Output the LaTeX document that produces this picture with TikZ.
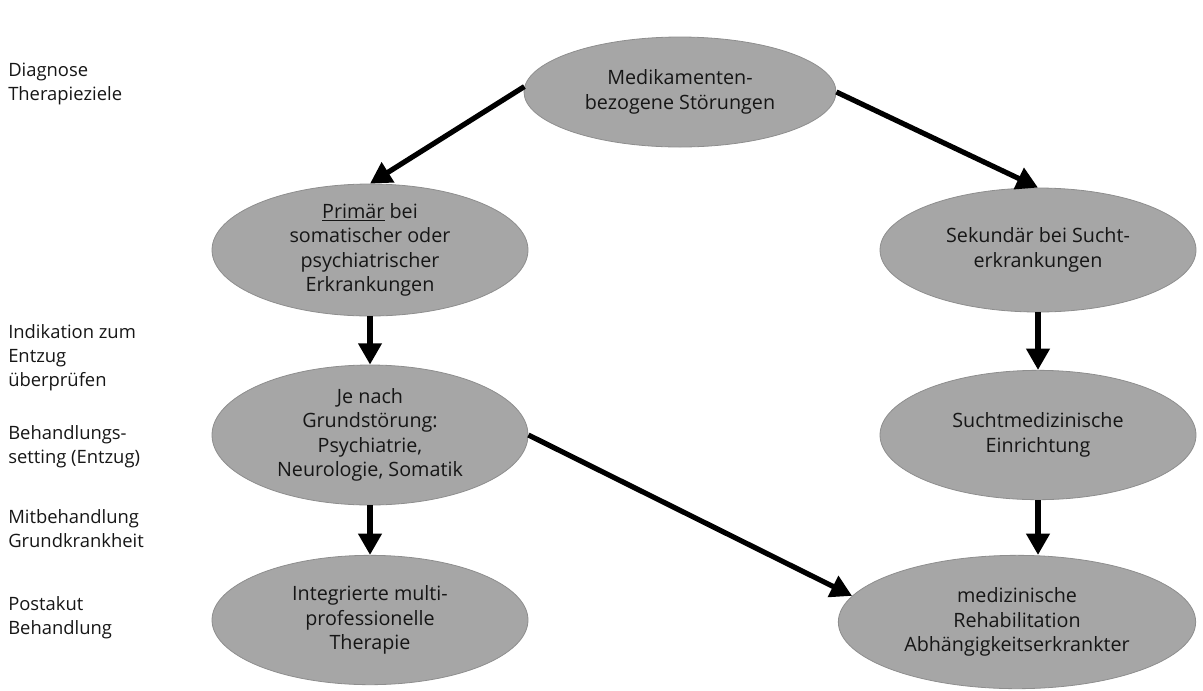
\documentclass[tikz,border=0pt]{standalone}
\usepackage{fontspec}
\setmainfont{Open Sans}
\usetikzlibrary{shapes.geometric,arrows.meta}
\definecolor{ellgray}{HTML}{A6A6A6}
\definecolor{ellborder}{HTML}{8E8E8E}
\definecolor{txt}{HTML}{161616}
\tikzset{
  ell/.style={ellipse, fill=ellgray, draw=ellborder, line width=0.6pt, align=center,
    inner sep=0pt, text=txt, font=\fontsize{14.8}{18.4}\selectfont},
  lab/.style={anchor=west, align=left, inner sep=0pt, text=txt,
    font=\fontsize{13.8}{18}\selectfont},
  arr/.style={line width=3.9pt, -{Triangle[length=16pt,width=17pt]}, black}
}
\begin{document}
\begin{tikzpicture}[x=0.75pt,y=-0.75pt]
\useasboundingbox (0,0) rectangle (1203,690);
% left labels
\node[lab] (l1) at (8,84) {Diagnose\\Therapieziele};
\node[lab] (l2) at (8,358) {Indikation zum\\Entzug\\überprüfen};
\node[lab] (l3) at (8,447) {Behandlungs-\\setting (Entzug)};
\node[lab] (l4) at (8,529) {Mitbehandlung\\Grundkrankheit};
\node[lab] (l5) at (8,618) {Postakut\\Behandlung};
% ellipses
\node[ell, minimum width=234pt, minimum height=82.5pt] (top) at (680,92)
  {Medikamenten-\\bezogene Störungen};
\node[ell, minimum width=237pt, minimum height=93pt] (prim) at (370,250)
  {\underline{Primär} bei\\somatischer oder\\psychiatrischer\\Erkrankungen};
\node[ell, minimum width=237pt, minimum height=93pt] (sek) at (1038,250)
  {Sekundär bei Sucht-\\erkrankungen};
\node[ell, minimum width=237pt, minimum height=105pt] (je) at (370,435)
  {Je nach\\Grundstörung:\\Psychiatrie,\\Neurologie, Somatik};
\node[ell, minimum width=237pt, minimum height=97pt] (such) at (1038,435)
  {Suchtmedizinische\\Einrichtung};
\node[ell, minimum width=237pt, minimum height=97pt] (integ) at (370,620)
  {Integrierte multi-\\professionelle\\Therapie};
\node[ell, minimum width=268pt, minimum height=100pt] (reha) at (1017,622)
  {medizinische\\Rehabilitation\\Abhängigkeitserkrankter};
% arrows
\draw[arr] (top.178) -- (prim.north);
\draw[arr] (top.east) -- (sek.north);
\draw[arr] (prim.south) -- (je.north);
\draw[arr] (je.south) -- (integ.north);
\draw[arr] (sek.south) -- (such.north);
\draw[arr] (such.south) -- (reha.north -| such.south);
\draw[arr] (je.east) -- (reha.171);
\end{tikzpicture}
\end{document}
